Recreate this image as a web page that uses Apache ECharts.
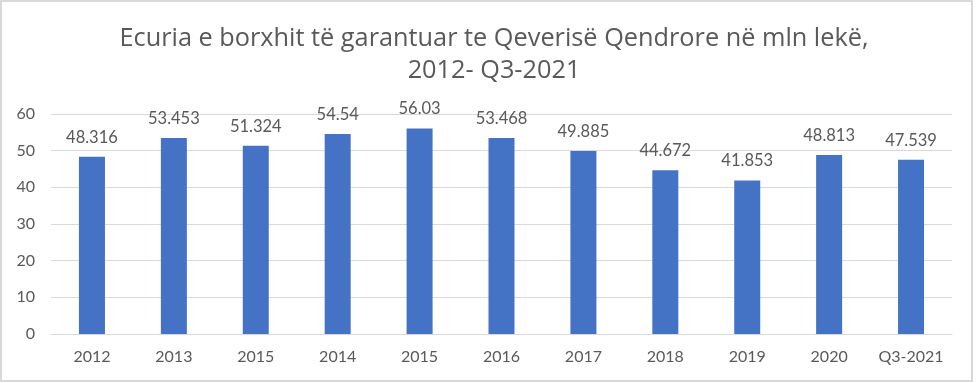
<!DOCTYPE html>
<html>
<head>
<meta charset="utf-8">
<script src="https://cdn.jsdelivr.net/npm/echarts@6/dist/echarts.min.js"></script>
<style>
html,body{margin:0;padding:0;background:#fff;}
#c{width:977px;height:383px;}
</style>
</head>
<body>
<div id="c"></div>
<script>
const categories = ["2012","2013","2015","2014","2015","2016","2017","2018","2019","2020","Q3-2021"];
const values = [48.316,53.453,51.324,54.54,56.03,53.468,49.885,44.672,41.853,48.813,47.539];
const valueLabels = ["48.316","53.453","51.324","54.54","56.03","53.468","49.885","44.672","41.853","48.813","47.539"];
const titleText = "Ecuria e borxhit të garantuar te Qeverisë Qendrore në mln lekë,\n2012- Q3-2021";
const yTicks = [0,10,20,30,40,50,60];

const FONT = "Lato, 'Noto Sans', sans-serif";
const TFONT = "'Open Sans', 'Noto Sans', sans-serif";
const chart = echarts.init(document.getElementById('c'), null, {renderer:'canvas'});
chart.setOption({
  animation:false,
  backgroundColor:'#fff',
  title:{
    text:titleText,
    left:489,
    top:18,
    textAlign:'center',
    textStyle:{fontFamily:TFONT,fontSize:25.3,fontWeight:'normal',color:'#595959',lineHeight:32}
  },
  graphic:[{
    type:'rect',
    shape:{x:1,y:1,width:971,height:380},
    style:{fill:'none',stroke:'#D9D9D9',lineWidth:2},
    silent:true,z:-1
  }],
  grid:{left:51,right:25,top:114,bottom:49,containLabel:false},
  xAxis:{
    type:'category',
    data:categories,
    axisLine:{lineStyle:{color:'#D9D9D9',width:1}},
    axisTick:{show:false},
    axisLabel:{fontFamily:FONT,fontSize:16,color:'#595959',margin:15,interval:0}
  },
  yAxis:{
    type:'value',
    min:yTicks[0],max:yTicks[yTicks.length-1],interval:10,
    axisLine:{show:false},
    axisTick:{show:false},
    splitLine:{lineStyle:{color:'#D9D9D9',width:1}},
    axisLabel:{fontFamily:FONT,fontSize:16,color:'#595959',margin:16}
  },
  series:[{
    type:'bar',
    data:values,
    barWidth:26,
    itemStyle:{color:'#4472C4'},
    label:{
      show:true,position:'top',distance:11,
      fontFamily:FONT,fontSize:16.5,color:'#595959',
      formatter:p=>valueLabels[p.dataIndex]
    }
  }]
});
</script>
</body>
</html>
